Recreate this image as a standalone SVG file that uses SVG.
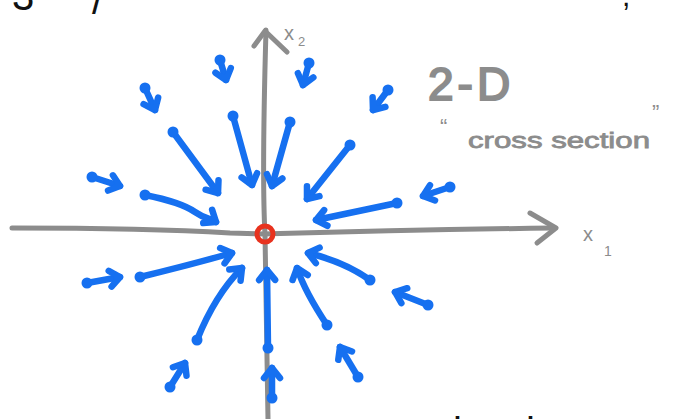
<svg xmlns="http://www.w3.org/2000/svg" width="679" height="419" viewBox="0 0 679 419">
<style>
.ax{fill:none;stroke:#8c8c8c;stroke-width:5;stroke-linecap:round;stroke-linejoin:round}
.v{fill:none;stroke:#1670f0;stroke-width:6.5;stroke-linecap:round;stroke-linejoin:round;marker-start:url(#dot);marker-end:url(#ah)}
.g{fill:#8c8c8c;font-family:"Liberation Sans",Arial,sans-serif}
.k{fill:#111;font-family:"Liberation Sans",Arial,sans-serif}
</style>
<defs>
<marker id="ah" markerUnits="userSpaceOnUse" viewBox="-15 -15 30 30" markerWidth="30" markerHeight="30" refX="0" refY="0" orient="auto" overflow="visible">
<path d="M -10 -8 L 0 0 L -10 8" fill="none" stroke="#1670f0" stroke-width="6.5" stroke-linecap="round" stroke-linejoin="round"/>
</marker>
<marker id="dot" markerUnits="userSpaceOnUse" viewBox="-8 -8 16 16" markerWidth="16" markerHeight="16" refX="0" refY="0" overflow="visible">
<circle r="5.5" fill="#1670f0"/>
</marker>
</defs>
<rect width="679" height="419" fill="#fff"/>
<g id="top-text">
<text class="k" x="12" y="10" font-size="40">3</text>
<text class="k" x="92" y="14" font-size="40">/</text>
<text class="k" x="622" y="6" font-size="30">,</text>
</g>
<g id="bottom-text">
<text class="k" x="453" y="446" font-size="40">l</text>
<text class="k" x="526" y="446" font-size="40">l</text>
</g>
<g id="axes">
<path class="ax" d="M 12 228 C 100 228 180 230 230 233 L 265 234 C 300 233 400 230 553 228"/>
<path class="ax" d="M 530 213 L 556 228 L 537 243"/>
<path class="ax" d="M 266 30 C 264 100 262 180 265 234 L 268 419"/>
<path class="ax" d="M 254 46 L 265 31 L 287 52"/>
<text class="g" x="284" y="40" font-size="20">x</text>
<text class="g" x="298" y="46" font-size="13">2</text>
<text class="g" x="583" y="241" font-size="20">x</text>
<text class="g" x="604" y="256" font-size="14">1</text>
</g>
<g id="labels">
<text class="g" x="428" y="100" font-size="46" letter-spacing="4" stroke="#8c8c8c" stroke-width="2">2-D</text>
<text class="g" x="440" y="134" font-size="22">“</text>
<text class="g" x="468" y="148" font-size="22" textLength="182" lengthAdjust="spacingAndGlyphs" stroke="#8c8c8c" stroke-width="0.8">cross section</text>
<text class="g" x="652" y="120" font-size="22">”</text>
</g>
<g id="field">
<path class="v" d="M220 60 L226 80"/>
<path class="v" d="M145 88 L155 110"/>
<path class="v" d="M173 132 L218 193"/>
<path class="v" d="M233 116 L252 185"/>
<path class="v" d="M92 177 L120 186"/>
<path class="v" d="M145 195 C170 200 185 205 195 212 S 210 218 216 222"/>
<path class="v" d="M309 63 L303 85"/>
<path class="v" d="M290 122 Q282 150 272 186"/>
<path class="v" d="M388 90 L373 110"/>
<path class="v" d="M350 145 L307 199"/>
<path class="v" d="M397 203 L316 220"/>
<path class="v" d="M450 187 L423 196"/>
<path class="v" d="M87 283 L120 277"/>
<path class="v" d="M140 277 Q190 265 232 253"/>
<path class="v" d="M197 340 Q215 295 242 268"/>
<path class="v" d="M170 387 L185 363"/>
<path class="v" d="M268 348 L267 270"/>
<path class="v" d="M272 398 L272 368"/>
<path class="v" d="M370 280 Q345 262 308 253"/>
<path class="v" d="M327 325 Q305 292 297 268"/>
<path class="v" d="M428 305 L395 292"/>
<path class="v" d="M358 377 L340 347"/>
</g>
<g id="fixed-point">
<circle cx="265" cy="234" r="8" fill="none" stroke="#e8321e" stroke-width="5"/>
</g>
</svg>
